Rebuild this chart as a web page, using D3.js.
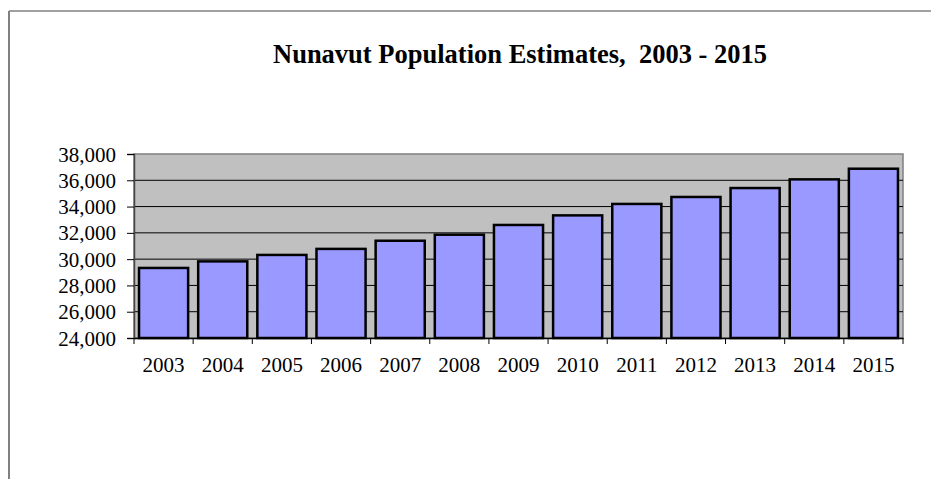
<!DOCTYPE html>
<html>
<head>
<meta charset="utf-8">
<script src="https://cdn.jsdelivr.net/npm/d3@7"></script>
<style>
  body { margin: 0; background: #fff; }
  svg text { font-family: "Liberation Serif", "Times New Roman", serif; fill: #000; }
</style>
</head>
<body>
<svg id="chart" width="931" height="479"></svg>
<script>
// chart data
const years = ['2003', '2004', '2005', '2006', '2007', '2008', '2009',
  '2010', '2011', '2012', '2013', '2014', '2015'];
const population = [29330, 29830, 30320, 30780, 31400, 31860, 32600,
  33330, 34200, 34730, 35410, 36070, 36880];
const yTicks = [24000, 26000, 28000, 30000, 32000, 34000, 36000, 38000];

const svg = d3.select('#chart');

// outer frame (only top and left edges visible)
svg.append('line')
  .attr('x1', 9).attr('y1', 11).attr('x2', 931).attr('y2', 11)
  .attr('stroke', '#808080').attr('stroke-width', 1.5);
svg.append('line')
  .attr('x1', 9).attr('y1', 11).attr('x2', 9).attr('y2', 479)
  .attr('stroke', '#808080').attr('stroke-width', 2);

// title
svg.append('text')
  .attr('x', 520).attr('y', 63)
  .attr('text-anchor', 'middle')
  .style('font-size', '26.5px')
  .style('font-weight', 'bold')
  .style('white-space', 'pre')
  .text('Nunavut Population Estimates,  2003 - 2015');

// plot area
const plot = { left: 134, top: 154, right: 903, bottom: 338 };

const x = d3.scaleBand()
  .domain(years)
  .range([plot.left, plot.right])
  .paddingInner(0.17)
  .paddingOuter(0.085);

const y = d3.scaleLinear()
  .domain([24000, 38000])
  .range([plot.bottom, plot.top]);

svg.append('rect')
  .attr('x', plot.left).attr('y', plot.top)
  .attr('width', plot.right - plot.left)
  .attr('height', plot.bottom - plot.top)
  .attr('fill', '#c0c0c0')
  .attr('stroke', '#808080')
  .attr('stroke-width', 1.5);

// gridlines
svg.append('g')
  .selectAll('line')
  .data(yTicks.slice(1, -1))
  .join('line')
  .attr('x1', plot.left).attr('x2', plot.right)
  .attr('y1', d => y(d)).attr('y2', d => y(d))
  .attr('stroke', '#000')
  .attr('stroke-width', 1);

// bars
svg.append('g')
  .selectAll('rect')
  .data(population)
  .join('rect')
  .attr('x', (d, i) => x(years[i]))
  .attr('y', d => y(d))
  .attr('width', x.bandwidth())
  .attr('height', d => y(24000) - y(d))
  .attr('fill', '#9999ff')
  .attr('stroke', '#000')
  .attr('stroke-width', 2.5);

// y axis
const yAxis = svg.append('g')
  .attr('transform', `translate(${plot.left},0)`)
  .call(d3.axisLeft(y).tickValues(yTicks).tickSize(7).tickPadding(11)
    .tickFormat(d3.format(',')));
yAxis.select('.domain').attr('stroke', '#444').attr('stroke-width', 1.5);
yAxis.selectAll('.tick line').attr('stroke', '#000');
yAxis.selectAll('text').style('font-size', '21px').attr('dy', '0.34em');

// x axis, ticks sit on band boundaries
const xAxis = svg.append('g')
  .attr('transform', `translate(0,${plot.bottom})`)
  .call(d3.axisBottom(x).tickSize(0).tickPadding(19));
xAxis.select('.domain').attr('stroke', '#000').attr('stroke-width', 1.5);
xAxis.selectAll('text').style('font-size', '21px');

const boundaries = d3.range(years.length + 1).map(i => plot.left + i * (plot.right - plot.left) / years.length);
xAxis.selectAll('.boundary')
  .data(boundaries)
  .join('line')
  .attr('class', 'boundary')
  .attr('x1', d => d).attr('x2', d => d)
  .attr('y1', 0).attr('y2', 6)
  .attr('stroke', '#000');
</script>
</body>
</html>
